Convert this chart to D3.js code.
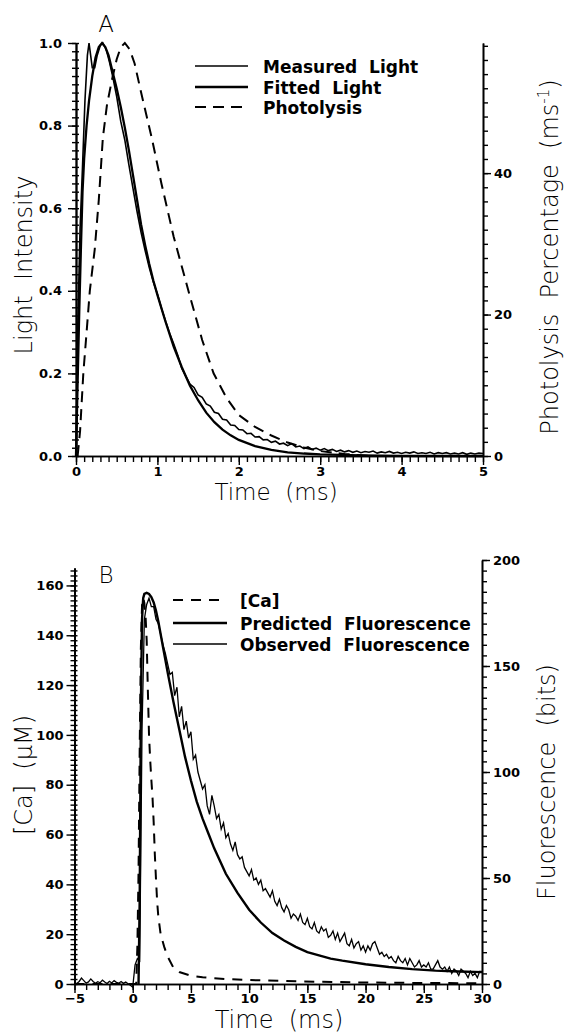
<!DOCTYPE html>
<html><head><meta charset="utf-8">
<script src="https://cdn.jsdelivr.net/npm/d3@7"></script>
<style>
body{margin:0;background:#fff}
svg{display:block}
text{font-family:"DejaVu Sans",sans-serif;fill:#000}
.tick text{font-weight:bold;font-size:13px;font-family:"DejaVu Sans",sans-serif}
.leg{font-weight:bold;font-size:17px;white-space:pre}
.title{font-size:24px;font-weight:300;white-space:pre}
.plabel{font-size:23px;font-weight:300}
</style></head><body>
<script>
// ---------- Panel A data ----------
const timeTicksA = [0, 1, 2, 3, 4, 5];
const lightTicks = [0, 0.2, 0.4, 0.6, 0.8, 1.0];
const photoTicks = [0, 20, 40];
const legendA = ["Measured  Light", "Fitted  Light", "Photolysis"];

const measuredLight = [
 [0,0],[0.02,0.30],[0.05,0.55],[0.08,0.70],[0.11,0.86],[0.14,0.97],[0.16,1.0],[0.18,0.97],[0.20,0.94],
 [0.23,0.94],[0.26,0.97],[0.30,0.995],[0.33,1.0],[0.37,0.985],[0.41,0.955],[0.45,0.92],
 [0.50,0.87],[0.55,0.81],[0.60,0.765],[0.65,0.705],[0.70,0.648],[0.75,0.592],[0.80,0.541],[0.85,0.497],
 [0.90,0.456],[0.95,0.421],[1.00,0.392],[1.05,0.358],[1.10,0.327],[1.15,0.297],[1.20,0.272],[1.25,0.244],
 [1.30,0.212],[1.35,0.193],[1.40,0.174],[1.45,0.166],[1.50,0.148],[1.55,0.142],[1.60,0.126],[1.65,0.121],
 [1.70,0.106],[1.75,0.103],[1.80,0.089],[1.85,0.087],[1.90,0.075],[1.95,0.074],[2.00,0.064],[2.05,0.063],
 [2.10,0.054],[2.15,0.055],[2.20,0.046],[2.25,0.047],[2.30,0.039],[2.35,0.040],[2.40,0.033],[2.45,0.036],
 [2.50,0.029],[2.55,0.031],[2.60,0.025],[2.65,0.030],[2.70,0.022],[2.75,0.024],[2.80,0.018],[2.85,0.022],
 [2.90,0.016],[2.95,0.019],[3.00,0.014],[3.05,0.018],[3.10,0.013],[3.15,0.016],[3.20,0.011],[3.25,0.014],
 [3.30,0.010],[3.35,0.013],[3.40,0.009],[3.45,0.012],[3.50,0.008],[3.55,0.011],[3.60,0.009],[3.65,0.012],
 [3.70,0.007],[3.75,0.010],[3.80,0.008],[3.85,0.011],[3.90,0.007],[3.95,0.009],[4.00,0.006],[4.05,0.009],
 [4.10,0.007],[4.15,0.010],[4.20,0.006],[4.25,0.008],[4.30,0.006],[4.35,0.009],[4.40,0.005],[4.45,0.008],
 [4.50,0.006],[4.55,0.008],[4.60,0.005],[4.65,0.007],[4.70,0.005],[4.75,0.008],[4.80,0.004],[4.85,0.007],
 [4.90,0.005],[4.95,0.007],[5.00,0.006]
];
const fittedLight = [
 [0,0],[0.02,0.18],[0.04,0.35],[0.06,0.50],[0.08,0.64],[0.10,0.72],[0.13,0.80],[0.16,0.86],[0.20,0.92],
 [0.24,0.965],[0.28,0.99],[0.32,1.0],[0.36,0.99],[0.40,0.97],[0.45,0.93],[0.50,0.89],[0.55,0.845],
 [0.60,0.795],[0.65,0.74],[0.70,0.68],[0.75,0.62],[0.80,0.56],[0.85,0.51],[0.90,0.465],[0.95,0.425],
 [1.0,0.39],[1.1,0.325],[1.2,0.265],[1.3,0.215],[1.4,0.17],[1.5,0.135],[1.6,0.105],[1.7,0.082],
 [1.8,0.064],[1.9,0.05],[2.0,0.039],[2.2,0.024],[2.4,0.015],[2.6,0.009],[2.8,0.006],[3.0,0.004],
 [3.5,0.0015],[4.0,0.0005],[5.0,0]
];
// photolysis, % per ms (right axis)
const photolysis = [
 [0.02,0],[0.05,3.5],[0.09,11.7],[0.13,17.5],[0.17,23.4],[0.23,29.2],[0.28,36.2],[0.33,45.0],[0.38,49.6],
 [0.44,53.1],[0.50,56.1],[0.55,57.8],[0.60,58.4],[0.66,57.5],[0.72,55.5],[0.80,51.4],[0.93,45.0],
 [1.05,38.5],[1.20,31.0],[1.38,23.4],[1.55,16.4],[1.69,11.7],[1.85,8.2],[2.00,5.8],[2.20,4.1],
 [2.40,2.9],[2.60,1.9],[2.80,1.2],[3.00,0.7],[3.30,0.3],[3.60,0]
];

// ---------- Panel B data ----------
const timeTicksB = [-5, 0, 5, 10, 15, 20, 25, 30];
const caTicks = [0, 20, 40, 60, 80, 100, 120, 140, 160];
const fluoTicks = [0, 50, 100, 150, 200];
const legendB = ["[Ca]", "Predicted  Fluorescence", "Observed  Fluorescence"];

const caTime = [-5,0.3,0.4,0.5,0.6,0.7,0.8,0.9,1.0,1.1,1.2,1.3,1.4,1.5,1.6,1.7,1.8,1.9,2.0,2.1,2.2,2.4,2.7,3.0,3.5,4.0,5.0,6.0,8,10,13,16,20,25,30];
const caConc = [0,0,15,45,95,135,152,155,153,148,138,118,100,90,82,75,65,52,42,33,27,20,15,11,6.5,4.8,3.3,2.7,2.0,1.6,1.2,0.9,0.6,0.4,0.3];

const predTime = [0.5,0.6,0.7,0.8,0.9,1.0,1.2,1.4,1.6,1.8,2.0,2.2,2.4,2.6,2.8,3.0,3.5,4.0,4.5,5.0,5.5,6.0,6.5,7.0,7.5,8.0,9,10,11,12,13,14,15,16,17,18,20,22,24,26,28,30];
const predFluo = [0,40,130,172,182,184,184.5,184,182.5,180,176,171,165,159,153,147,133,120,107,96,86,78,71,64,58,52,43,35,29,24,20.5,17.5,15,13.5,12,11,9.3,8,7,6.3,5.9,5.6];

// observed fluorescence, sampled every 0.2 ms from -5 ms (one row per ms)
const obsStart = -5, obsStep = 0.2;
const obsFluo = [
 0.5,0.2,1.2,2.8,1.6,
 0.4,1.0,2.4,1.2,0.3,
 1.1,0.6,1.8,0.9,0.2,
 1.3,0.5,1.6,0.8,0.4,
 1.2,0.3,0.9,0.1,-0.6,
 -1.5,9,12,11,120,
 172,179,182,178,178,
 172,170,165,160,156,
 151,146,147,136,140,
 126,131,120,124,116,
 119,106,108,100,96,
 92,94,84,80,89,
 84,78,80,73,76,
 69,71,66,63,67,
 61,59,60,55,53,
 51,54,49,50,47,
 49,44,45,43,41,
 44,39,37,40,36,
 34,37,35,31,33,
 32,30,33,29,28,
 31,27,26,29,25,
 24,27,25,26,22,
 23,25,21,24,20,
 22,24,19,18,21,
 17,19,20,16,18,
 15,18,16,19,20,
 17,14,15,13,14,
 12,13,11,10,13,
 11,10,12,9,12,
 10,8,9,11,8,
 9,8,10,7,7,
 9,11,8,7,8,
 6,8,5,7,6,
 4,7,6,5,3,
 6,4,5,3,6,
 6
];

// ---------- Drawing ----------
const W = 565, H = 1035;
const svg = d3.select("body").append("svg").attr("width", W).attr("height", H);

function styleAxis(g){
  g.select(".domain").attr("stroke","#000").attr("stroke-width",1.6);
  g.selectAll(".tick line").attr("stroke","#000").attr("stroke-width",1.4);
  return g;
}

// Panel A scales
const xA = d3.scaleLinear().domain([0,5]).range([76,483]);
const yA = d3.scaleLinear().domain([0,1]).range([456,43]);
const yA2 = d3.scaleLinear().domain([0,58.4]).range([456,43]);

const gA = svg.append("g");
styleAxis(gA.append("g").attr("transform",`translate(0,${yA(0)})`)
  .call(d3.axisBottom(xA).tickValues(d3.range(0,51).map(i=>i/10)).tickSize(6).tickSizeOuter(0).tickFormat("")));
styleAxis(gA.append("g").attr("transform",`translate(0,${yA(0)})`)
  .call(d3.axisBottom(xA).tickValues(timeTicksA).tickSize(9).tickSizeOuter(0).tickPadding(2).tickFormat(d3.format("d"))));
styleAxis(gA.append("g").attr("transform",`translate(${xA(0)},0)`)
  .call(d3.axisLeft(yA).tickValues(d3.range(0,51).map(i=>i/50)).tickSize(4).tickSizeOuter(0).tickFormat("")));
styleAxis(gA.append("g").attr("transform",`translate(${xA(0)},0)`)
  .call(d3.axisLeft(yA).tickValues(d3.range(0,51).map(i=>i/50)).tickSize(-3).tickSizeOuter(0).tickFormat("")));
styleAxis(gA.append("g").attr("transform",`translate(${xA(0)},0)`)
  .call(d3.axisLeft(yA).tickValues(lightTicks).tickSize(8).tickSizeOuter(0).tickPadding(6).tickFormat(d3.format(".1f"))));
styleAxis(gA.append("g").attr("transform",`translate(${xA(5)},0)`)
  .call(d3.axisRight(yA2).tickValues(d3.range(0,30).map(i=>i*2)).tickSize(5).tickSizeOuter(0).tickFormat("")));
styleAxis(gA.append("g").attr("transform",`translate(${xA(5)},0)`)
  .call(d3.axisRight(yA2).tickValues(photoTicks).tickSize(8).tickSizeOuter(0).tickPadding(3).tickFormat(d3.format("d"))));

const lineA = d3.line().x(d=>xA(d[0])).y(d=>yA(d[1]));
const lineA2 = d3.line().x(d=>xA(d[0])).y(d=>yA2(d[1]));
gA.append("path").datum(photolysis).attr("d",lineA2).attr("fill","none").attr("stroke","#000")
  .attr("stroke-width",2).attr("stroke-dasharray","11,7");
gA.append("path").datum(fittedLight).attr("d",lineA).attr("fill","none").attr("stroke","#000").attr("stroke-width",2.3);
gA.append("path").datum(measuredLight).attr("d",lineA).attr("fill","none").attr("stroke","#000").attr("stroke-width",1.6);

// legend A
const legAy = [66, 87, 107];
const legAstyle = [{w:1.4,d:null},{w:2.4,d:null},{w:2,d:"11,7"}];
legendA.forEach((s,i)=>{
  gA.append("line").attr("x1",195).attr("x2",248).attr("y1",legAy[i]).attr("y2",legAy[i])
    .attr("stroke","#000").attr("stroke-width",legAstyle[i].w).attr("stroke-dasharray",legAstyle[i].d);
  gA.append("text").attr("class","leg").attr("x",263).attr("y",legAy[i]+7).text(s);
});
gA.append("text").attr("class","plabel").attr("x",106).attr("y",32).attr("text-anchor","middle").text("A");
gA.append("text").attr("class","title").attr("text-anchor","middle")
  .attr("transform","translate(32,265) rotate(-90)").text("Light  Intensity");
gA.append("text").attr("class","title").attr("text-anchor","middle").attr("x",276).attr("y",500)
  .style("font-size","23px").text("Time  (ms)");
const tA = gA.append("text").attr("class","title").attr("text-anchor","middle")
  .attr("transform","translate(558,257) rotate(-90)");
tA.append("tspan").text("Photolysis  Percentage  (ms");
tA.append("tspan").attr("dy",-9).attr("font-size",15).text("-1");
tA.append("tspan").attr("dy",9).text(")");

// Panel B scales
const xB = d3.scaleLinear().domain([-5,30]).range([74.5,482]);
const yB = d3.scaleLinear().domain([0,167]).range([984,568]);
const yB2 = d3.scaleLinear().domain([0,200]).range([984,560]);
const gB = svg.append("g");
styleAxis(gB.append("g").attr("transform",`translate(0,${yB(0)})`)
  .call(d3.axisBottom(xB).tickValues(d3.range(-5,31)).tickSize(6).tickSizeOuter(0).tickFormat("")));
styleAxis(gB.append("g").attr("transform",`translate(0,${yB(0)})`)
  .call(d3.axisBottom(xB).tickValues(timeTicksB).tickSize(9).tickSizeOuter(0).tickPadding(1).tickFormat(d3.format("d"))));
styleAxis(gB.append("g").attr("transform",`translate(${xB(-5)},0)`)
  .call(d3.axisLeft(yB).tickValues(d3.range(0,84).map(i=>i*2)).tickSize(4).tickSizeOuter(0).tickFormat("")));
styleAxis(gB.append("g").attr("transform",`translate(${xB(-5)},0)`)
  .call(d3.axisLeft(yB).tickValues(d3.range(0,84).map(i=>i*2)).tickSize(-3).tickSizeOuter(0).tickFormat("")));
styleAxis(gB.append("g").attr("transform",`translate(${xB(-5)},0)`)
  .call(d3.axisLeft(yB).tickValues(caTicks).tickSize(8).tickSizeOuter(0).tickPadding(3).tickFormat(d3.format("d"))));
styleAxis(gB.append("g").attr("transform",`translate(${xB(30)},0)`)
  .call(d3.axisRight(yB2).tickValues(d3.range(0,41).map(i=>i*5)).tickSize(5).tickSizeOuter(0).tickFormat("")));
styleAxis(gB.append("g").attr("transform",`translate(${xB(30)},0)`)
  .call(d3.axisRight(yB2).tickValues(fluoTicks).tickSize(8).tickSizeOuter(0).tickPadding(3).tickFormat(d3.format("d"))));

const caData = caTime.map((t,i)=>[t,caConc[i]]);
const predData = predTime.map((t,i)=>[t,predFluo[i]]);
const obsData = obsFluo.map((v,i)=>[obsStart+i*obsStep, v]);
gB.append("path").datum(caData).attr("d",d3.line().x(d=>xB(d[0])).y(d=>yB(d[1])))
  .attr("fill","none").attr("stroke","#000").attr("stroke-width",2).attr("stroke-dasharray","10,8");
gB.append("path").datum(obsData).attr("d",d3.line().x(d=>xB(d[0])).y(d=>yB2(d[1])))
  .attr("fill","none").attr("stroke","#000").attr("stroke-width",1.3);
gB.append("path").datum(predData).attr("d",d3.line().x(d=>xB(d[0])).y(d=>yB2(d[1])))
  .attr("fill","none").attr("stroke","#000").attr("stroke-width",2.4);

const legBy = [600, 623, 644];
const legBstyle = [{w:2,d:"10,8"},{w:2.4,d:null},{w:1.4,d:null}];
legendB.forEach((s,i)=>{
  gB.append("line").attr("x1",173).attr("x2",227).attr("y1",legBy[i]).attr("y2",legBy[i])
    .attr("stroke","#000").attr("stroke-width",legBstyle[i].w).attr("stroke-dasharray",legBstyle[i].d);
  gB.append("text").attr("class","leg").attr("x",240).attr("y",legBy[i]+7).text(s);
});
gB.append("text").attr("class","plabel").attr("x",106).attr("y",583).attr("text-anchor","middle").text("B");
gB.append("text").attr("class","title").attr("text-anchor","middle")
  .attr("transform","translate(32,775) rotate(-90)").text("[Ca]  (μM)");
gB.append("text").attr("class","title").attr("text-anchor","middle").attr("x",279).attr("y",1028).text("Time  (ms)");
gB.append("text").attr("class","title").attr("text-anchor","middle")
  .attr("transform","translate(555,782) rotate(-90)").text("Fluorescence  (bits)");
</script></body></html>
